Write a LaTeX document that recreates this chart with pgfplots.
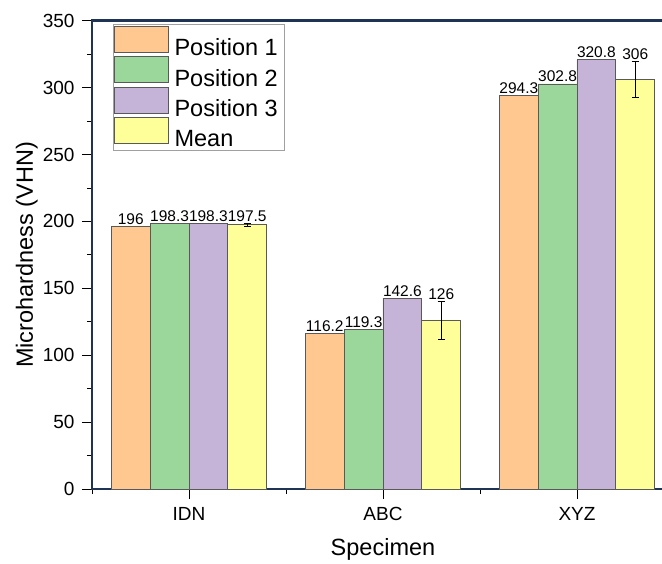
\documentclass[border=0pt]{standalone}
\usepackage{pgfplots}
\usepackage{pgfplotstable}
\pgfplotsset{compat=1.18}
\usepackage{fontspec}
\setmainfont{Liberation Sans}
\definecolor{cP1}{RGB}{255,200,145}
\definecolor{cP2}{RGB}{155,215,155}
\definecolor{cP3}{RGB}{197,180,215}
\definecolor{cM}{RGB}{255,255,153}
\definecolor{spine}{RGB}{31,52,84}
\definecolor{legframe}{RGB}{160,160,160}
\pgfplotstableread{
x p1 l1 p2 l2 p3 l3 m lm e
0 196 196 198.3 198.3 198.3 198.3 197.5 197.5 1.33
1 116.2 116.2 119.3 119.3 142.6 142.6 126 126 14.43
2 294.3 294.3 302.8 302.8 320.8 320.8 306 306 13.53
}\datatable
\begin{document}
\begin{tikzpicture}
\begin{axis}[
  name=main,
  scale only axis,
  width=582pt, height=468.3pt,
  xmin=-0.5, xmax=2.5, ymin=0, ymax=350,
  ybar, bar width=0.2,
  xtick={0,1,2}, xticklabels={IDN,ABC,XYZ},
  minor xtick={-0.5,0.5,1.5},
  ytick={0,50,...,350}, minor ytick={25,75,...,325},
  tick pos=left, tick align=outside,
  major tick length=10pt, minor tick length=5pt,
  tick style={black, line width=0.8pt},
  separate axis lines,
  axis line style={draw=spine, line width=2.5pt, line cap=rect},
  /pgf/number format/assume math mode=true,
  ticklabel style={font=\fontsize{19}{22}\selectfont},
  xticklabel style={yshift=-5pt},
  yticklabel style={xshift=-4pt},
  xlabel={Specimen}, ylabel={Microhardness (VHN)},
  label style={font=\fontsize{23.5}{27}\selectfont},
  xlabel style={at={(axis description cs:0.5,-0.141)}, anchor=base},
  ylabel style={at={(axis description cs:-0.112,0.5)}, anchor=center},
  legend style={at={(0.036,0.993)}, anchor=north west,
    draw=legframe, line width=0.8pt,
    font=\fontsize{23.5}{27}\selectfont,
    inner xsep=1pt, inner ysep=1.5pt, row sep=-2pt,
    nodes={inner xsep=5.5pt, inner ysep=1pt}},
  legend image code/.code={\draw[#1, bar shift=0pt] (0pt,-4.3pt) rectangle (54pt,21.7pt);},
  legend cell align=left,
  nodes near coords style={font=\fontsize{15.5}{18}\selectfont, inner sep=1.5pt, black},
]
\addplot[fill=cP1, draw=black!65, line width=0.7pt, bar shift=-0.3,
  nodes near coords, point meta=explicit symbolic]
  table[x=x, y=p1, meta=l1] {\datatable};
\addlegendentry{Position 1}
\addplot[fill=cP2, draw=black!65, line width=0.7pt, bar shift=-0.1,
  nodes near coords, point meta=explicit symbolic]
  table[x=x, y=p2, meta=l2] {\datatable};
\addlegendentry{Position 2}
\addplot[fill=cP3, draw=black!65, line width=0.7pt, bar shift=0.1,
  nodes near coords, point meta=explicit symbolic]
  table[x=x, y=p3, meta=l3] {\datatable};
\addlegendentry{Position 3}
\addplot[fill=cM, draw=black!65, line width=0.7pt, bar shift=0.3,
  error bars/.cd, y dir=both, y explicit,
  error bar style={black, line width=0.8pt},
  error mark options={rotate=90, mark size=3.5pt, black, line width=0.8pt}]
  table[x=x, y=m, y error=e] {\datatable};
\addlegendentry{Mean}
\addplot[draw=none, fill=none, bar shift=0.3, forget plot,
  nodes near coords, point meta=explicit symbolic]
  table[x=x, y expr=\thisrow{m}+\thisrow{e}, meta=lm] {\datatable};
\end{axis}
\pgfresetboundingbox
\path[use as bounding box] ([shift={(-92pt,-74pt)}]main.south west) rectangle ++(662pt,563pt);
\end{tikzpicture}
\end{document}
